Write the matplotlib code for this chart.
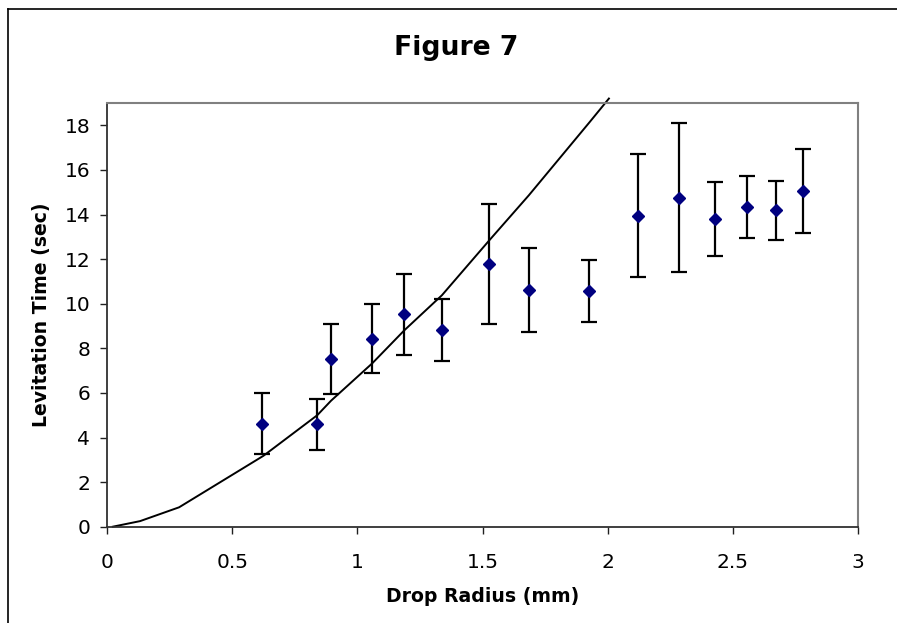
import matplotlib
matplotlib.use("Agg")
import matplotlib.pyplot as plt
from matplotlib.lines import Line2D

# Measured data
radius = [0.62, 0.84, 0.895, 1.059, 1.188, 1.338, 1.527, 1.685, 1.927,
          2.121, 2.285, 2.43, 2.557, 2.673, 2.78]
lev_time = [4.61, 4.59, 7.53, 8.42, 9.52, 8.81, 11.78, 10.62, 10.55,
            13.93, 14.76, 13.80, 14.34, 14.19, 15.07]
err_top = [5.98, 5.73, 9.08, 10.0, 11.33, 10.23, 14.46, 12.49, 11.94,
           16.70, 18.12, 15.44, 15.71, 15.50, 16.94]
err_bot = [3.26, 3.44, 5.95, 6.89, 7.71, 7.41, 9.11, 8.74, 9.16,
           11.19, 11.41, 12.13, 12.95, 12.86, 13.16]

model_x = [0.023, 0.132, 0.288, 0.625, 0.84, 0.895, 1.059, 1.188, 1.338,
           1.527, 1.685, 1.927, 2.005]
model_y = [0.0, 0.25, 0.87, 3.18, 5.0, 5.65, 7.32, 8.81, 10.38,
           12.84, 14.86, 18.13, 19.2]

x_ticks = [0, 0.5, 1, 1.5, 2, 2.5, 3]
x_ticklabels = ["0", "0.5", "1", "1.5", "2", "2.5", "3"]
y_ticks = [0, 2, 4, 6, 8, 10, 12, 14, 16, 18]

W, H = 897, 623
fig = plt.figure(figsize=(W / 100, H / 100), dpi=100)
plt.rcParams['font.family'] = ['DejaVu Sans']

ax = fig.add_axes([107 / W, 1 - 526.7 / H, (858 - 107) / W, (526.7 - 103) / H])

yerr = [[v - b for v, b in zip(lev_time, err_bot)],
        [t - v for v, t in zip(lev_time, err_top)]]

ax.plot(model_x, model_y, color='black', lw=1.4, clip_on=False, zorder=2)
ax.errorbar(radius, lev_time, yerr=yerr, fmt='D', color='#000080',
            ms=5.8, mec='#000080', ecolor='black', elinewidth=1.6,
            capsize=6, capthick=1.6, zorder=3)

ax.set_xlim(0, 3)
ax.set_ylim(0, 19)
ax.set_xticks(x_ticks)
ax.set_xticklabels(x_ticklabels)
ax.set_yticks(y_ticks)
ax.tick_params(direction='out', length=5, width=1, color='#202020',
               labelsize=14.5, labelcolor='black')
ax.tick_params(axis='x', pad=14)
ax.tick_params(axis='y', pad=7)

for s in ['left', 'bottom']:
    ax.spines[s].set_color('#303030')
    ax.spines[s].set_linewidth(1.3)
for s in ['top', 'right']:
    ax.spines[s].set_color('#808080')
    ax.spines[s].set_linewidth(1.5)

fig.text(456.5 / W, 1 - 55 / H, "Figure 7", ha='center', va='baseline',
         fontsize=19.2, fontweight='bold')
fig.text(482.5 / W, 1 - 602 / H, "Drop Radius (mm)", ha='center',
         va='baseline', fontsize=13.6, fontweight='bold')
fig.text(42 / W, 1 - 315 / H, "Levitation Time (sec)", ha='center',
         va='center', rotation=90, fontsize=13.6, fontweight='bold')

# outer chart frame (top and left edges)
fig.add_artist(Line2D([8 / W, 1.0], [1 - 9 / H, 1 - 9 / H],
                      transform=fig.transFigure, color='black', lw=1.2))
fig.add_artist(Line2D([8 / W, 8 / W], [0.0, 1 - 9 / H],
                      transform=fig.transFigure, color='black', lw=1.2))

fig.savefig("out.png", dpi=100)
